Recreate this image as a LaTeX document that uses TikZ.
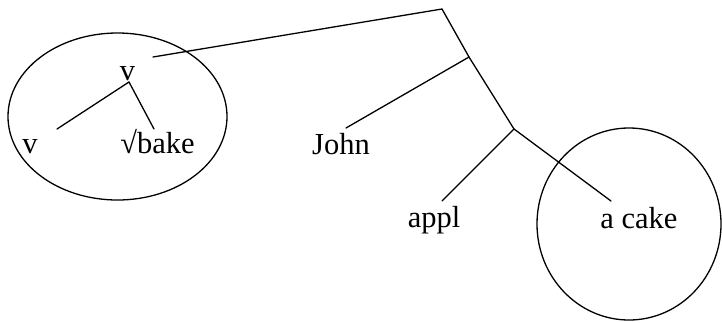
\documentclass[tikz,border=0pt]{standalone}
\usepackage{fontspec}
\setmainfont{Liberation Serif}
\begin{document}
\begin{tikzpicture}[x=1pt,y=-1pt,
  lbl/.style={inner sep=0pt,anchor=base,font=\fontsize{30.5}{36}\selectfont},
  edge/.style={line width=1.3pt,line cap=round},
  ring/.style={line width=1.3pt}]
\useasboundingbox (0,0) rectangle (722,322);
% ellipses
\draw[ring] (117.5,116.5) ellipse [x radius=109.5, y radius=83.5];
\draw[ring] (629,224) ellipse [x radius=92, y radius=96];
% text nodes
\node[lbl] (vtop) at (127.5,80) {v};
\node[lbl] (vleft) at (30,153) {v};
\node[lbl] (bake) at (157.5,153) {√bake};
\node[lbl] (john) at (341,154) {John};
\node[lbl] (appl) at (434,227) {appl};
\node[lbl] (cake) at (639,228) {a cake};
% branch points
\coordinate (root) at (442,9);
\coordinate (mid) at (469,57);
\coordinate (low) at (514,129);
\coordinate (vfoot) at (129,82);
\coordinate (toV) at (153,57);
\coordinate (toJohn) at (346,128);
\coordinate (toAppl) at (442,201);
\coordinate (toCake) at (611,201);
\coordinate (toVleft) at (57,129);
\coordinate (toBake) at (154,129);
% connectors
\draw[edge] (toV) -- (root) -- (mid) -- (low);
\draw[edge] (mid) -- (toJohn);
\draw[edge] (low) -- (toAppl);
\draw[edge] (low) -- (toCake);
\draw[edge] (vfoot) -- (toVleft);
\draw[edge] (vfoot) -- (toBake);
\end{tikzpicture}
\end{document}
